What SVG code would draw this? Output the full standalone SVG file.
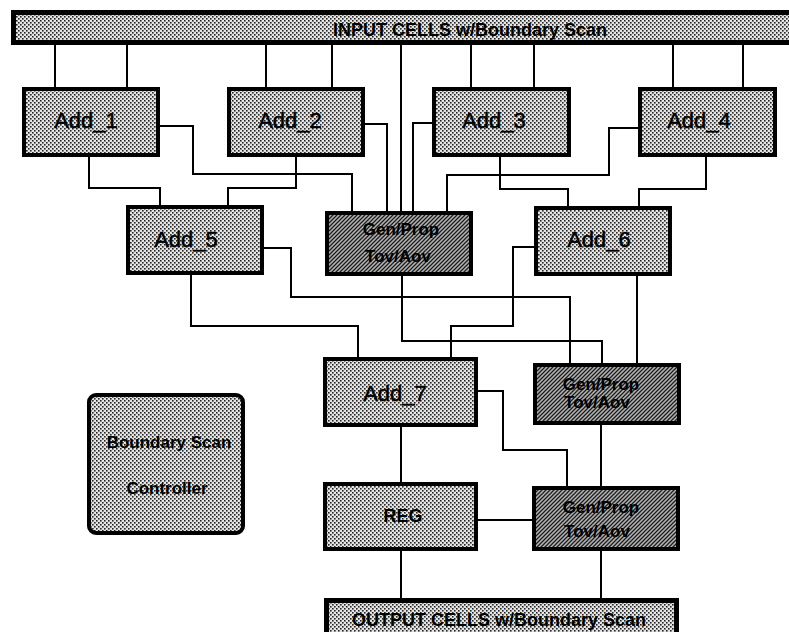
<svg xmlns="http://www.w3.org/2000/svg" width="789" height="632" viewBox="0 0 789 632">
  <defs>
    <!-- light dotted screen used for adders, register, controller and cell bars -->
    <pattern id="dots" width="4" height="4" patternUnits="userSpaceOnUse">
      <rect width="4" height="4" fill="#e4e4e4"/>
      <rect x="0" y="0" width="1.6" height="1.6" fill="#262626"/>
      <rect x="2" y="2" width="1.6" height="1.6" fill="#262626"/>
    </pattern>
    <!-- darker hatched screen used for the Gen/Prop blocks -->
    <pattern id="hatch" width="4" height="4" patternUnits="userSpaceOnUse">
      <rect width="4" height="4" fill="#b4b4b4"/>
      <path d="M-1,1 L1,-1 M0,4 L4,0 M3,5 L5,3" stroke="#1e1e1e" stroke-width="1.3"/>
    </pattern>
  </defs>
  <style>
    .box { fill: url(#dots); stroke: #000; stroke-width: 4; }
    .dark { fill: url(#hatch); stroke: #000; stroke-width: 4; }
    .bar { fill: url(#dots); stroke: #000; stroke-width: 5; }
    .wire { fill: none; stroke: #000; stroke-width: 2; }
    .lbl { font-family: "Liberation Sans", Arial, sans-serif; font-size: 22px; fill: #000; stroke: #000; stroke-width: 0.5; text-anchor: middle; }
    .sm { font-family: "Liberation Sans", Arial, sans-serif; font-size: 17px; font-weight: bold; fill: #000; text-anchor: middle; }
    .barlbl { font-family: "Liberation Sans", Arial, sans-serif; font-size: 18px; font-weight: bold; fill: #000; }
  </style>

  <rect width="789" height="632" fill="#fff"/>

  <!-- connectors -->
  <g id="connectors" class="wire">
    <!-- input cells to first adder row -->
    <path d="M55,45 V87 M127,45 V87 M266,45 V87 M332,45 V87 M471,45 V87 M534,45 V87 M673,45 V87 M743,45 V87"/>
    <path d="M401,45 V211"/>
    <!-- adders into Gen/Prop (upper) -->
    <path d="M160,126 H193 V174 H352 V211"/>
    <path d="M365,124 H387 V211"/>
    <path d="M432,123 H413 V211"/>
    <path d="M638,128 H609 V175 H447 V211"/>
    <!-- first row to second row adders -->
    <path d="M89,157 V188 H160 V205"/>
    <path d="M296,157 V188 H228 V205"/>
    <path d="M500,157 V189 H568 V206"/>
    <path d="M706,157 V189 H639 V206"/>
    <!-- second row to third row -->
    <path d="M264,248 H291 V297 H570 V363"/>
    <path d="M191,275 V326 H358 V357"/>
    <path d="M402,276 V341 H602 V363"/>
    <path d="M534,247 H513 V326 H451 V357"/>
    <path d="M637,276 V363"/>
    <!-- final stage -->
    <path d="M478,391 H503 V450 H567 V486"/>
    <path d="M601,425 V486"/>
    <path d="M401,427 V482"/>
    <path d="M478,520 H532"/>
    <path d="M401,551 V598"/>
    <path d="M601,551 V598"/>
  </g>

  <g id="input-cells">
    <rect class="bar" x="13.5" y="12.5" width="790" height="30"/>
    <text class="barlbl" x="333" y="36">INPUT CELLS w/Boundary Scan</text>
  </g>

  <g id="add1">
    <rect class="box" x="24" y="89" width="134" height="66"/>
    <text class="lbl" x="86" y="128">Add_1</text>
  </g>
  <g id="add2">
    <rect class="box" x="229" y="89" width="134" height="66"/>
    <text class="lbl" x="290" y="128">Add_2</text>
  </g>
  <g id="add3">
    <rect class="box" x="434" y="89" width="135" height="66"/>
    <text class="lbl" x="494" y="128">Add_3</text>
  </g>
  <g id="add4">
    <rect class="box" x="640" y="89" width="135" height="66"/>
    <text class="lbl" x="699" y="128">Add_4</text>
  </g>

  <g id="add5">
    <rect class="box" x="128" y="207" width="134" height="66"/>
    <text class="lbl" x="186" y="247">Add_5</text>
  </g>
  <g id="genprop1">
    <rect class="dark" x="327" y="213" width="144" height="61"/>
    <text class="sm" x="401" y="235">Gen/Prop</text>
    <text class="sm" x="398" y="262">Tov/Aov</text>
  </g>
  <g id="add6">
    <rect class="box" x="536" y="208" width="134" height="66"/>
    <text class="lbl" x="599" y="247">Add_6</text>
  </g>

  <g id="add7">
    <rect class="box" x="325" y="359" width="151" height="66"/>
    <text class="lbl" x="395" y="401">Add_7</text>
  </g>
  <g id="genprop2">
    <rect class="dark" x="535" y="365" width="144" height="58"/>
    <text class="sm" x="601" y="390">Gen/Prop</text>
    <text class="sm" x="597" y="408">Tov/Aov</text>
  </g>

  <g id="bs-controller">
    <rect class="box" x="89" y="395" width="154" height="138" rx="7"/>
    <text class="sm" x="169" y="448">Boundary Scan</text>
    <text class="sm" x="167" y="494">Controller</text>
  </g>

  <g id="reg">
    <rect class="box" x="325" y="484" width="151" height="65"/>
    <text class="sm" x="403" y="522" style="font-size:18px">REG</text>
  </g>
  <g id="genprop3">
    <rect class="dark" x="534" y="488" width="144" height="61"/>
    <text class="sm" x="601" y="513">Gen/Prop</text>
    <text class="sm" x="597" y="537">Tov/Aov</text>
  </g>

  <g id="output-cells">
    <rect class="bar" x="326.5" y="600.5" width="350" height="40"/>
    <text class="barlbl" x="352" y="626">OUTPUT CELLS w/Boundary Scan</text>
  </g>
</svg>
